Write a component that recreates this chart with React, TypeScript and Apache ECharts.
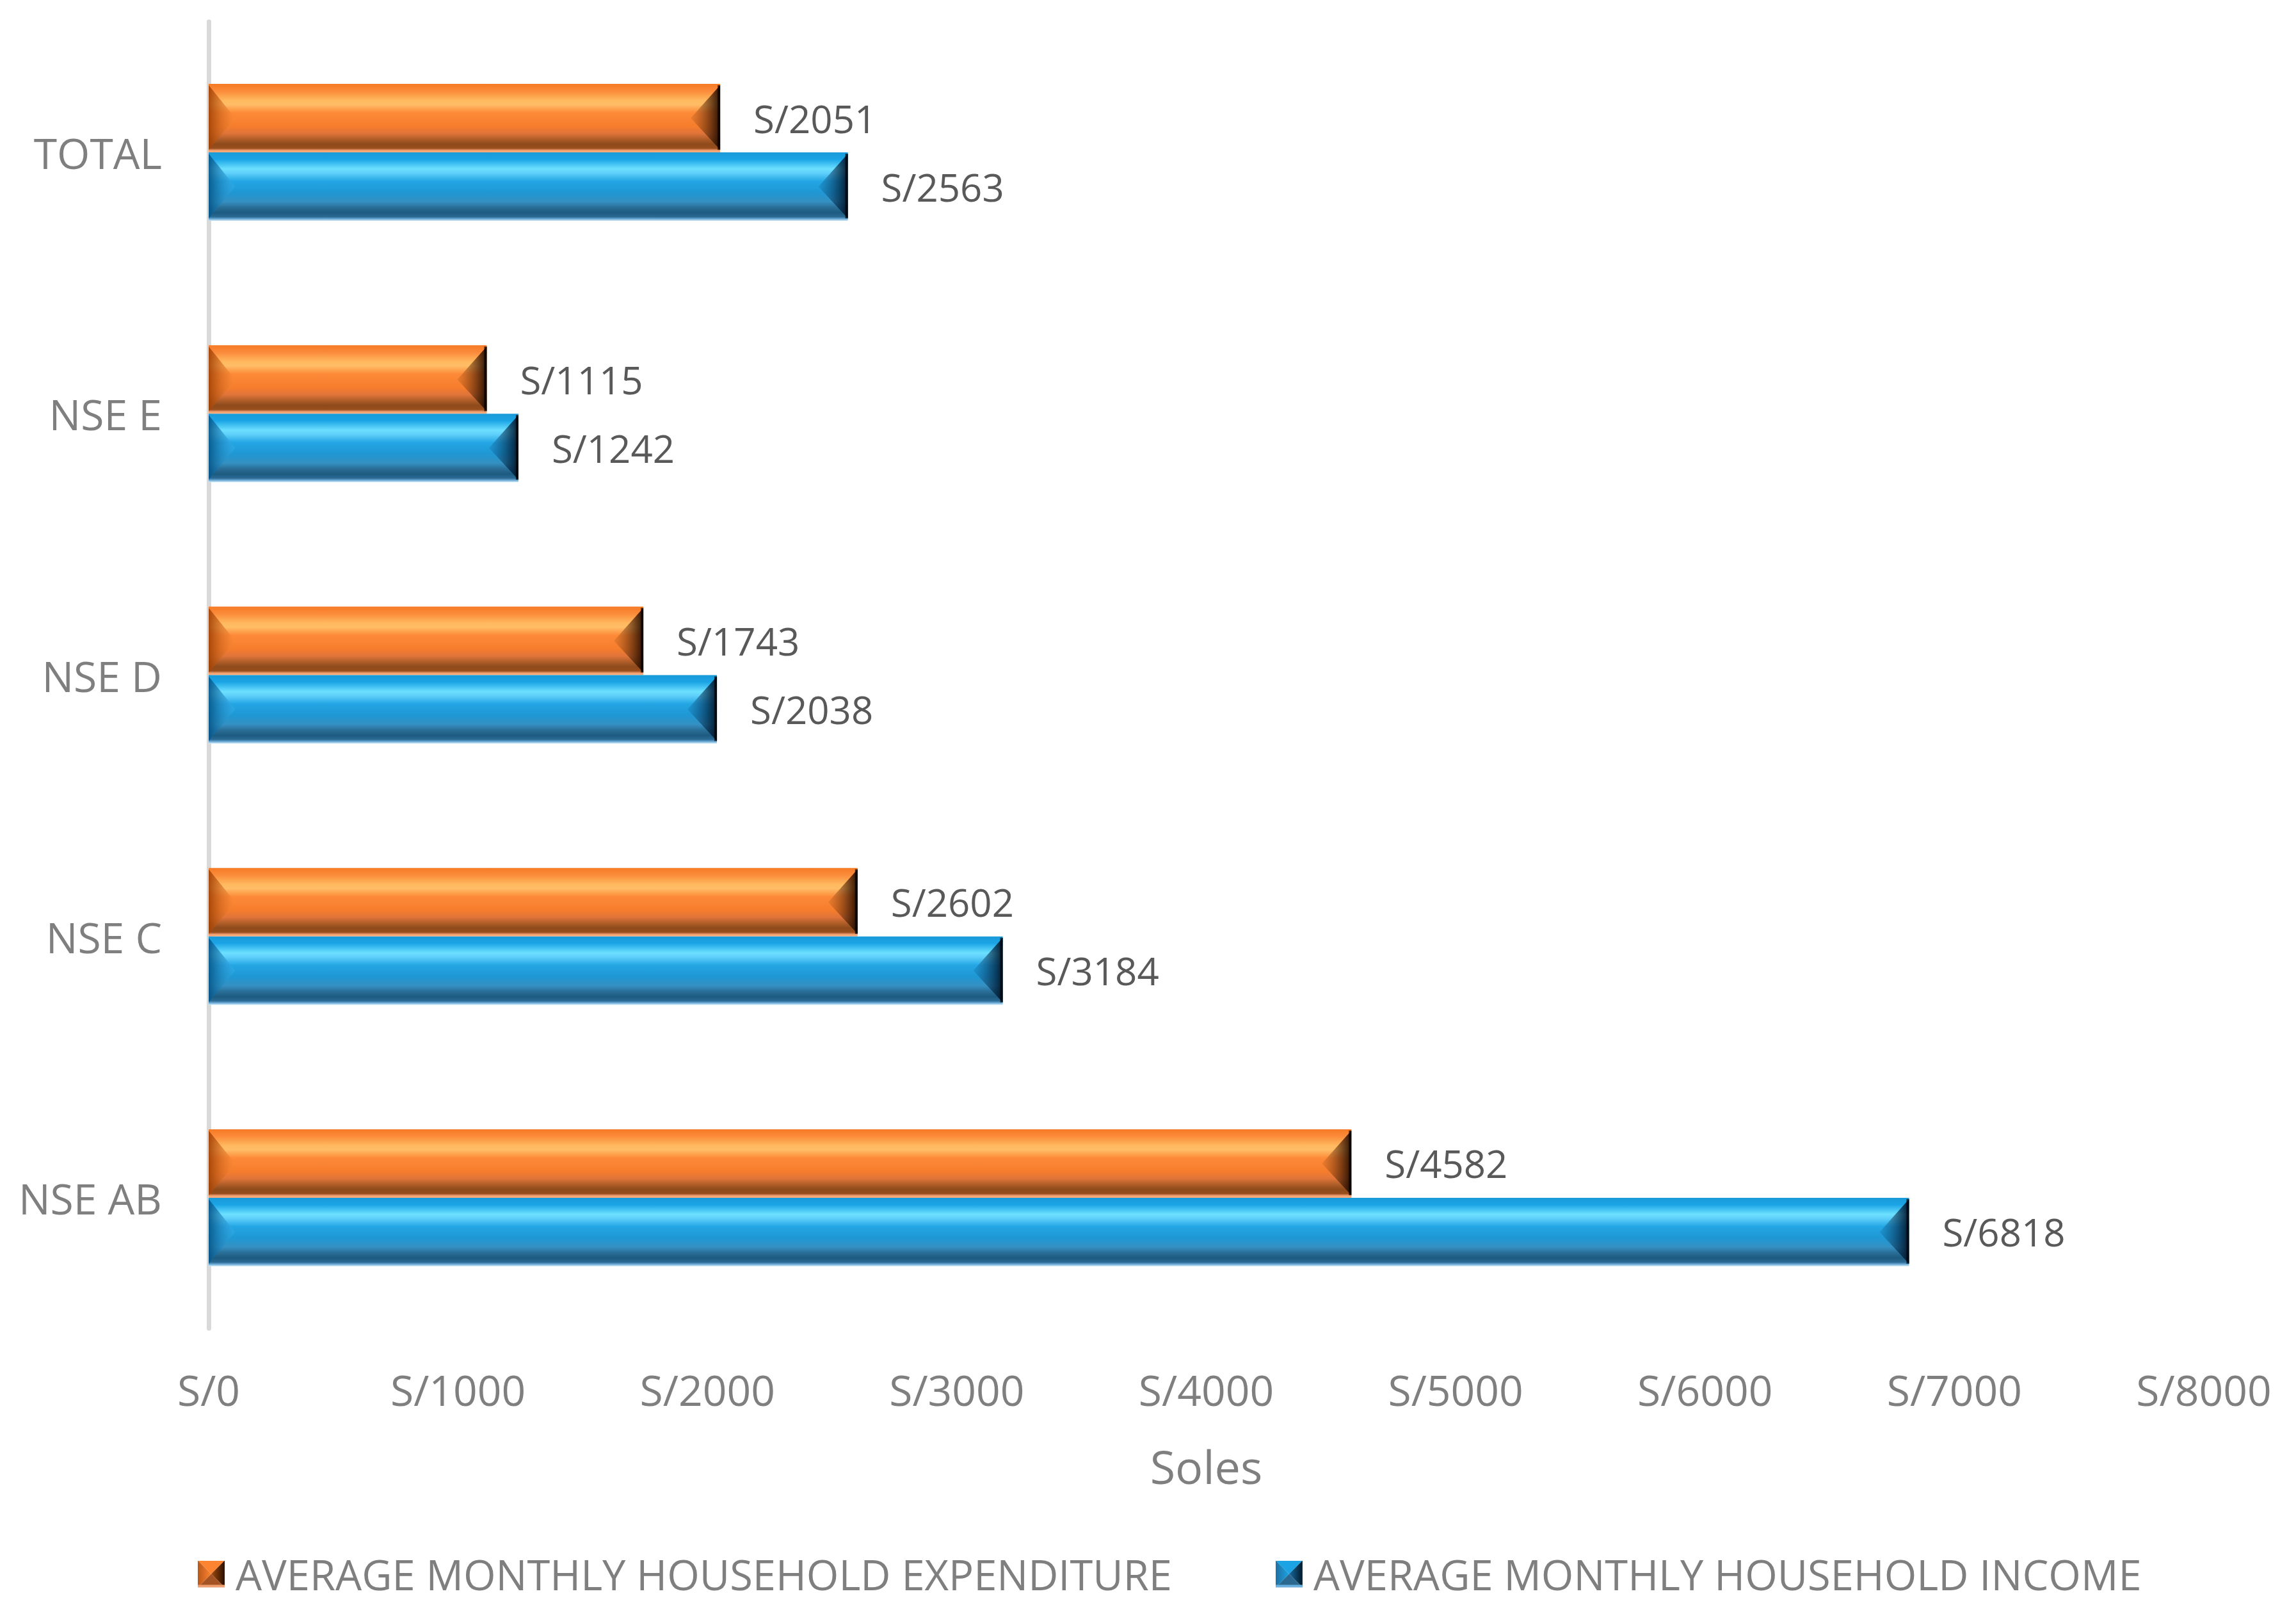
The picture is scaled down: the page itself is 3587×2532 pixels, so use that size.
import React, { useEffect, useRef } from "react";
import * as echarts from "echarts";

const categories = ["NSE AB", "NSE C", "NSE D", "NSE E", "TOTAL"];
const expenditure = [4582, 2602, 1743, 1115, 2051];
const income = [6818, 3184, 2038, 1242, 2563];
const xTicks = { min: 0, max: 8000, interval: 1000 };
const EXP_NAME = "AVERAGE MONTHLY HOUSEHOLD EXPENDITURE";
const INC_NAME = "AVERAGE MONTHLY HOUSEHOLD INCOME";

const FONT = "'Open Sans', 'Noto Sans', sans-serif";
const BAR_W = 107;
const BEVEL = 46;

function iconSvg(top: string, left: string, rightA: string, rightB: string, bottom: string, strip: string) {
  const svg = `<svg xmlns='http://www.w3.org/2000/svg' width='42' height='42' viewBox='0 0 42 42'><defs><linearGradient id='r' x1='0' x2='1' y1='0' y2='0'><stop offset='0' stop-color='${rightA}'/><stop offset='1' stop-color='${rightB}'/></linearGradient><linearGradient id='l' x1='0' x2='1' y1='0' y2='0'><stop offset='0' stop-color='${left}'/><stop offset='1' stop-color='${top}'/></linearGradient></defs><polygon points='0,0 42,0 21,21' fill='${top}'/><polygon points='0,0 21,21 0,42' fill='url(#l)'/><polygon points='42,0 42,42 21,21' fill='url(#r)'/><polygon points='0,42 21,21 42,42' fill='${bottom}'/><rect y='38' width='42' height='4' fill='${strip}'/></svg>`;
  return "image://data:image/svg+xml;charset=utf-8," + encodeURIComponent(svg);
}

const orangeGrad = () =>
  new echarts.graphic.LinearGradient(0, 0, 0, 1, [
    { offset: 0, color: "#f67a25" },
    { offset: 0.1, color: "#fb8a3a" },
    { offset: 0.24, color: "#ffb95f" },
    { offset: 0.3, color: "#ffbd66" },
    { offset: 0.42, color: "#fd8a38" },
    { offset: 0.62, color: "#f57d2c" },
    { offset: 0.72, color: "#e0743a" },
    { offset: 0.82, color: "#a85a26" },
    { offset: 0.88, color: "#8e4a1b" },
    { offset: 0.94, color: "#9a4e1e" },
    { offset: 0.97, color: "#f2a070" },
    { offset: 1, color: "#f8b080" },
  ]);

const blueGrad = () =>
  new echarts.graphic.LinearGradient(0, 0, 0, 1, [
    { offset: 0, color: "#1a9ad8" },
    { offset: 0.1, color: "#1aa4e6" },
    { offset: 0.24, color: "#6ce0ff" },
    { offset: 0.3, color: "#5fd0fa" },
    { offset: 0.42, color: "#24a6e4" },
    { offset: 0.58, color: "#1e98d4" },
    { offset: 0.72, color: "#3590c2" },
    { offset: 0.8, color: "#2a6f98" },
    { offset: 0.88, color: "#1d5a80" },
    { offset: 0.94, color: "#2a6a94" },
    { offset: 0.97, color: "#6aaad6" },
    { offset: 1, color: "#d4ecf8" },
  ]);

function bevelSeries(values: number[], offset: number, leftEdge: string, leftTip: string, rightTip: string, rightEdge: string) {
  return {
    type: "custom",
    silent: true,
    z: 5,
    clip: false,
    encode: { x: 0, y: 1 },
    data: values.map((v, i) => [v, i]),
    renderItem: (params: any, api: any) => {
      const v = api.value(0);
      const c = api.value(1);
      const p0 = api.coord([0, c]);
      const p1 = api.coord([v, c]);
      const top = p1[1] + offset;
      const bottom = top + BAR_W;
      const mid = top + BAR_W / 2;
      const x0 = p0[0];
      const x1 = p1[0];
      return {
        type: "group",
        children: [
          {
            type: "polygon",
            shape: { points: [[x0, top + 2], [x0 + BEVEL * 0.9, mid], [x0, bottom - 4]] },
            style: {
              fill: new echarts.graphic.LinearGradient(0, 0, 1, 0, [
                { offset: 0, color: leftEdge },
                { offset: 1, color: leftTip },
              ]),
            },
          },
          {
            type: "polygon",
            shape: { points: [[x1, top + 2], [x1 - BEVEL, mid], [x1, bottom - 4]] },
            style: {
              fill: new echarts.graphic.LinearGradient(0, 0, 1, 0, [
                { offset: 0, color: rightTip },
                { offset: 1, color: rightEdge },
              ]),
            },
          },
          {
            type: "rect",
            shape: { x: x1 - 4, y: top + 2, width: 4, height: BAR_W - 6 },
            style: { fill: "rgba(0,0,0,0.7)" },
          },
        ],
      };
    },
  };
}

export default function App() {
  const ref = useRef<HTMLDivElement>(null);
  useEffect(() => {
    if (!ref.current) return;
    const chart = echarts.init(ref.current, null, { renderer: "svg" });
    const labelStyle = {
      show: true,
      position: "right",
      distance: 52,
      fontSize: 60,
      fontFamily: FONT,
      color: "#595959",
      formatter: (p: any) => "S/" + p.value,
    };
    chart.setOption({
      animation: false,
      backgroundColor: "#ffffff",
      grid: { left: 326, right: 144, top: 34, bottom: 457, containLabel: false },
      legend: {
        left: 309,
        top: 2426,
        padding: 0,
        itemWidth: 42,
        itemHeight: 42,
        itemGap: 162,
        textStyle: { fontSize: 65, fontFamily: FONT, color: "#7f7f7f", padding: [0, 0, 0, 12] },
        data: [
          { name: EXP_NAME, icon: iconSvg("#fd8430", "#b8581a", "#a04a10", "#2a1000", "#a45424", "#f0a070") },
          { name: INC_NAME, icon: iconSvg("#1ba3e4", "#2070a0", "#1a6aa0", "#001a2a", "#2a6890", "#6ab0e0") },
        ],
      },
      xAxis: {
        type: "value",
        min: xTicks.min,
        max: xTicks.max,
        interval: xTicks.interval,
        name: "Soles",
        nameLocation: "middle",
        nameGap: 179,
        nameTextStyle: { fontSize: 72, fontFamily: FONT, color: "#7f7f7f" },
        axisLine: { show: false },
        axisTick: { show: false },
        splitLine: { show: false },
        axisLabel: {
          fontSize: 66,
          fontFamily: FONT,
          color: "#7f7f7f",
          margin: 62,
          formatter: (v: number) => "S/" + v,
        },
      },
      yAxis: {
        type: "category",
        data: categories,
        axisLine: { show: true, lineStyle: { color: "#d9d9d9", width: 7 } },
        axisTick: { show: false },
        axisLabel: { fontSize: 66, fontFamily: FONT, color: "#7f7f7f", margin: 73 },
      },
      series: [
        {
          name: EXP_NAME,
          type: "bar",
          barWidth: BAR_W,
          barGap: "0%",
          data: expenditure,
          itemStyle: { color: orangeGrad() },
          label: labelStyle,
          z: 3,
        },
        {
          name: INC_NAME,
          type: "bar",
          barWidth: BAR_W,
          barGap: "0%",
          data: income,
          itemStyle: { color: blueGrad() },
          label: labelStyle,
          z: 3,
        },
        bevelSeries(expenditure, -BAR_W, "rgba(160,65,5,0.9)", "rgba(255,140,55,0.35)", "rgba(150,70,15,0.15)", "rgba(30,10,0,0.95)"),
        bevelSeries(income, 0, "rgba(5,85,135,0.9)", "rgba(60,180,240,0.35)", "rgba(10,80,130,0.15)", "rgba(0,20,40,0.95)"),
      ],
    });
    return () => chart.dispose();
  }, []);
  return (
    <div
      ref={ref}
      style={{ position: "absolute", left: 0, top: 0, width: 3587, height: 2532, background: "#fff" }}
    />
  );
}
